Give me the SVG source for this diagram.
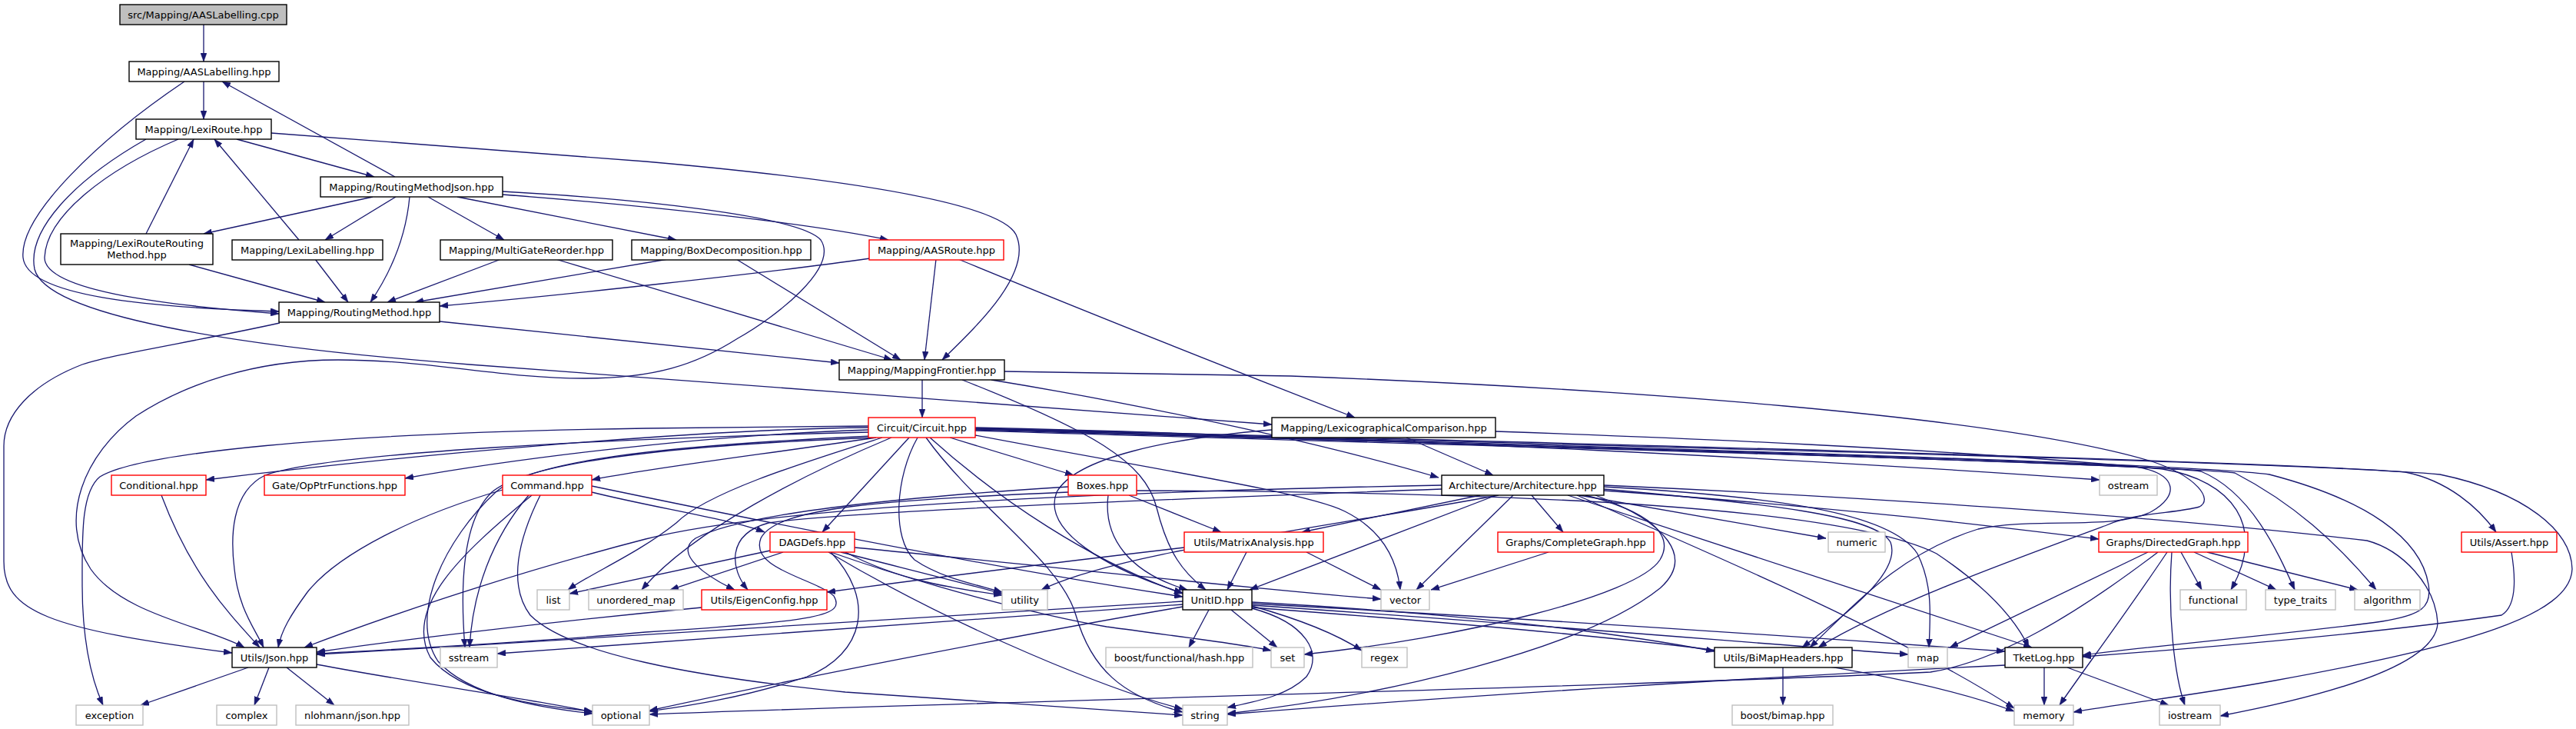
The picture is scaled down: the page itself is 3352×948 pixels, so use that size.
<svg xmlns="http://www.w3.org/2000/svg" width="3352" height="948" viewBox="0 0 3352 948">
<style>
.n rect{fill:#fff;stroke:#000;stroke-width:1.4}
.r rect{stroke:#f00}
.g rect{stroke:#bfbfbf}
.s rect{fill:#bfbfbf}
text{font-family:"DejaVu Sans",sans-serif;font-size:13px;text-anchor:middle;fill:#000}
#edges path{fill:none;stroke:#191970;stroke-width:1.3;marker-end:url(#a)}
</style>
<defs>
<marker id="a" viewBox="0 0 11 8" refX="11" refY="4" markerWidth="11" markerHeight="8" orient="auto" markerUnits="userSpaceOnUse"><path d="M0,0 L11,4 L0,8 z" fill="#191970" stroke="#191970" stroke-width="0.5"/></marker>
</defs>
<rect width="3352" height="948" fill="#fff"/>
<g id="edges">
<path d="M265,32 L265,80"/>
<path d="M265,106 L265,155"/>
<path d="M240,106 C130,180 25,280 30,335 C35,385 190,400 363,405"/>
<path d="M232,181 C140,220 60,280 58,335 C58,380 230,398 363,408"/>
<path d="M190,181 C95,235 35,300 45,350 C60,410 300,450 611,474 L1655,552"/>
<path d="M308,181 L487,230"/>
<path d="M353,173 L840,210 C1090,232 1300,262 1322,305 C1345,355 1270,425 1226,468"/>
<path d="M514,230 L289,106"/>
<path d="M485,256 L265,304"/>
<path d="M515,256 L423,312"/>
<path d="M533,256 C528,310 508,355 482,393"/>
<path d="M557,256 L656,312"/>
<path d="M595,256 L880,312"/>
<path d="M654,253 C850,268 1050,290 1156,312"/>
<path d="M654,249 C820,258 1040,280 1068,312 C1092,348 1010,412 960,440 C905,475 850,492 760,492 C650,492 560,468 440,468 C330,468 240,500 177,541 C110,590 75,675 118,740 C160,800 270,815 318,842"/>
<path d="M190,304 L252,181"/>
<path d="M246,344 L423,393"/>
<path d="M389,312 L279,181"/>
<path d="M410,337 L453,393"/>
<path d="M652,337 L504,393"/>
<path d="M723,337 L1161,468"/>
<path d="M869,337 L540,393"/>
<path d="M958,337 L1172,468"/>
<path d="M1132,336 C1000,355 720,385 572,398"/>
<path d="M1218,337 L1203,468"/>
<path d="M1247,337 C1400,400 1550,460 1763,543"/>
<path d="M572,418 L1092,472"/>
<path d="M364,420 C250,445 150,460 107,474 C40,500 5,540 5,580 L5,730 C5,795 60,818 302,849"/>
<path d="M1200,494 L1200,543"/>
<path d="M1307,483 L1680,489 C2100,505 2600,540 2800,600 C2860,620 2880,650 2862,659 C2830,668 2780,666 2741,683 C2600,735 2450,790 2366,842"/>
<path d="M1290,494 C1450,520 1700,570 1872,621"/>
<path d="M1252,494 C1420,560 1490,600 1505,660 C1520,720 1540,745 1569,767"/>
<path d="M1830,569 L1943,618"/>
<path d="M1655,559 C1520,570 1400,595 1375,640 C1355,690 1440,740 1539,771"/>
<path d="M1946,561 C2200,570 2500,582 2780,607 C2835,617 2835,645 2800,665 C2755,690 2645,672 2574,688 C2470,720 2410,790 2355,842"/>
<path d="M1130,556 C900,558 500,595 268,624"/>
<path d="M1130,559 C900,566 650,600 527,622"/>
<path d="M1140,569 C1000,590 850,608 770,624"/>
<path d="M1130,554 L840,557 C420,563 180,590 130,620 C105,640 107,700 107,760 C107,840 122,890 134,917"/>
<path d="M1130,562 C800,570 430,588 345,618 C300,640 300,700 305,740 C310,790 330,815 343,842"/>
<path d="M1140,569 C900,578 690,598 640,640 C598,680 600,780 605,842"/>
<path d="M1148,569 C1050,600 920,640 880,680 C830,720 770,745 739,767"/>
<path d="M1160,569 C1050,615 900,690 835,767"/>
<path d="M1183,569 L1070,692"/>
<path d="M1194,569 C1165,620 1160,700 1190,728 C1225,752 1270,760 1304,770"/>
<path d="M1210,569 C1300,650 1420,730 1539,772"/>
<path d="M1205,569 C1270,660 1380,730 1400,800 C1420,870 1460,905 1539,926"/>
<path d="M1236,569 L1397,618"/>
<path d="M1269,556 C1800,568 2400,600 2732,624"/>
<path d="M1269,557 C2000,578 2900,598 3130,614 C3185,625 3225,660 3248,692"/>
<path d="M1269,559 C2000,580 2700,598 2814,610 C2905,625 2950,685 2903,767"/>
<path d="M1269,560 C2000,582 2780,602 2864,613 C2930,640 2965,720 2986,767"/>
<path d="M1269,558 C2000,580 2830,605 2908,615 C2985,655 3040,705 3092,767"/>
<path d="M1269,557 C2000,575 3000,600 3175,617 C3285,640 3346,690 3347,740 C3345,800 3210,840 2960,885 C2850,905 2760,915 2698,926"/>
<path d="M1269,558 C2000,578 2850,602 2953,617 C3080,650 3150,700 3160,760 C3165,790 3150,800 3100,808 C3000,822 2800,840 2710,852"/>
<path d="M1269,566 C1500,610 1700,640 1750,665 C1800,690 1818,730 1822,767"/>
<path d="M1135,567 C850,580 690,600 645,640 C580,700 530,800 570,860 C610,905 700,920 771,928"/>
<path d="M654,637 C540,670 440,720 400,770 C378,800 366,820 362,842"/>
<path d="M688,644 C640,700 615,770 611,842"/>
<path d="M692,644 C600,720 525,790 560,855 C600,905 700,918 771,925"/>
<path d="M703,644 C675,700 660,760 690,800 C740,850 900,880 1100,900 C1300,915 1450,925 1539,930"/>
<path d="M770,640 C850,660 950,675 995,692"/>
<path d="M770,632 C1000,680 1300,740 1539,776"/>
<path d="M1469,644 L1589,692"/>
<path d="M1442,644 C1435,700 1470,745 1545,767"/>
<path d="M1390,640 C1150,650 1010,660 990,700 C975,740 1060,752 1085,775 C1100,800 1070,808 840,822 C700,835 500,845 412,850"/>
<path d="M1390,633 C1150,648 960,670 905,700 C875,720 920,750 956,767"/>
<path d="M1479,638 C2000,640 2400,660 2520,720 C2580,760 2620,800 2640,842"/>
<path d="M1926,644 L1694,692"/>
<path d="M1947,644 L1626,767"/>
<path d="M1969,644 L1843,767"/>
<path d="M1993,644 L2034,692"/>
<path d="M2055,644 L2376,700"/>
<path d="M2087,636 C2300,655 2440,670 2460,705 C2475,745 2400,800 2345,842"/>
<path d="M2087,633 C2300,645 2460,665 2495,720 C2515,760 2512,800 2510,842"/>
<path d="M2063,644 C2145,665 2180,695 2160,728 C2130,775 1900,830 1697,851"/>
<path d="M2076,644 C2170,680 2205,725 2160,765 C2060,845 1800,905 1597,928"/>
<path d="M2087,638 C2400,660 2600,685 2731,701"/>
<path d="M2087,631 C2400,645 2800,670 3080,703 C3125,715 3169,760 3172,810 C3170,870 3000,910 2889,931"/>
<path d="M1876,631 C1400,640 1000,660 840,701 C650,750 480,810 396,842"/>
<path d="M1876,636 C1500,650 1100,665 1000,680 C945,695 950,740 973,767"/>
<path d="M1950,644 C1700,690 1450,720 1355,767"/>
<path d="M2040,644 L2644,842"/>
<path d="M2052,644 C2250,730 2480,830 2621,921"/>
<path d="M2015,718 L1862,767"/>
<path d="M1541,712 C1300,740 1150,760 1076,770"/>
<path d="M1622,718 L1597,767"/>
<path d="M1700,718 L1797,767"/>
<path d="M1002,716 L741,772"/>
<path d="M1019,718 L872,767"/>
<path d="M1094,718 C1180,740 1250,757 1304,772"/>
<path d="M1100,718 C1170,755 1240,765 1304,774"/>
<path d="M1112,712 C1400,740 1650,768 1797,779"/>
<path d="M1081,718 C1200,760 1350,800 1440,815 C1550,830 1620,838 1654,846"/>
<path d="M1078,718 C1250,820 1450,900 1539,922"/>
<path d="M1081,718 C1140,780 1125,850 1050,880 C960,910 880,920 845,925"/>
<path d="M1573,793 L1547,842"/>
<path d="M1602,793 L1662,842"/>
<path d="M1629,788 C1690,805 1740,825 1772,846"/>
<path d="M1629,783 C1900,798 2100,822 2231,847"/>
<path d="M1629,787 C2000,812 2300,838 2483,851"/>
<path d="M1629,785 C2000,805 2400,832 2609,847"/>
<path d="M1629,790 C2100,825 2450,860 2621,925"/>
<path d="M1629,791 C1700,810 1722,850 1700,880 C1675,905 1635,912 1597,920"/>
<path d="M1539,782 C1200,800 800,830 412,851"/>
<path d="M1539,786 C1200,810 900,832 647,850"/>
<path d="M1539,789 C1300,830 1000,890 845,924"/>
<path d="M2660,868 L2660,917"/>
<path d="M2690,868 L2822,917"/>
<path d="M2609,865 C2300,880 1900,905 1597,929"/>
<path d="M2795,718 L2537,842"/>
<path d="M2808,718 C2700,800 2600,860 2512,874 C2200,890 1200,915 845,929"/>
<path d="M2820,718 C2765,800 2705,880 2680,917"/>
<path d="M2826,718 C2820,800 2830,880 2843,917"/>
<path d="M2838,718 L2865,767"/>
<path d="M2855,718 L2962,767"/>
<path d="M2872,718 L3068,767"/>
<path d="M3268,718 C3275,760 3272,790 3255,800 C3100,822 2900,840 2710,854"/>
<path d="M913,790 C700,810 500,835 412,848"/>
<path d="M210,644 C250,750 300,800 338,842"/>
<path d="M323,868 L183,917"/>
<path d="M350,868 L331,917"/>
<path d="M373,868 L435,917"/>
<path d="M412,864 C550,890 700,910 771,926"/>
<path d="M2320,868 L2320,917"/>
</g>
<g id="n0" class="n s"><rect x="156" y="6" width="217" height="26"/><text x="264.5" y="23.5">src/Mapping/AASLabelling.cpp</text></g>
<g id="n1" class="n"><rect x="168" y="80" width="195" height="26"/><text x="265.5" y="97.5">Mapping/AASLabelling.hpp</text></g>
<g id="n2" class="n"><rect x="177" y="155" width="176" height="26"/><text x="265" y="172.5">Mapping/LexiRoute.hpp</text></g>
<g id="n3" class="n"><rect x="417" y="230" width="237" height="26"/><text x="535.5" y="247.5">Mapping/RoutingMethodJson.hpp</text></g>
<g id="n4" class="n"><rect x="79" y="304" width="198" height="40"/><text x="178" y="321">Mapping/LexiRouteRouting</text><text x="178" y="336">Method.hpp</text></g>
<g id="n5" class="n"><rect x="302" y="312" width="196" height="26"/><text x="400" y="329.5">Mapping/LexiLabelling.hpp</text></g>
<g id="n6" class="n"><rect x="573" y="312" width="224" height="26"/><text x="685" y="329.5">Mapping/MultiGateReorder.hpp</text></g>
<g id="n7" class="n"><rect x="822" y="312" width="233" height="26"/><text x="938.5" y="329.5">Mapping/BoxDecomposition.hpp</text></g>
<g id="n8" class="n r"><rect x="1131" y="312" width="175" height="26"/><text x="1218.5" y="329.5">Mapping/AASRoute.hpp</text></g>
<g id="n9" class="n"><rect x="363" y="393" width="209" height="26"/><text x="467.5" y="410.5">Mapping/RoutingMethod.hpp</text></g>
<g id="n10" class="n"><rect x="1092" y="468" width="215" height="26"/><text x="1199.5" y="485.5">Mapping/MappingFrontier.hpp</text></g>
<g id="n11" class="n r"><rect x="1130" y="543" width="139" height="26"/><text x="1199.5" y="560.5">Circuit/Circuit.hpp</text></g>
<g id="n12" class="n"><rect x="1655" y="543" width="291" height="26"/><text x="1800.5" y="560.5">Mapping/LexicographicalComparison.hpp</text></g>
<g id="n13" class="n r"><rect x="145" y="618" width="123" height="26"/><text x="206.5" y="635.5">Conditional.hpp</text></g>
<g id="n14" class="n r"><rect x="344" y="618" width="183" height="26"/><text x="435.5" y="635.5">Gate/OpPtrFunctions.hpp</text></g>
<g id="n15" class="n r"><rect x="654" y="618" width="116" height="26"/><text x="712" y="635.5">Command.hpp</text></g>
<g id="n16" class="n r"><rect x="1390" y="618" width="89" height="26"/><text x="1434.5" y="635.5">Boxes.hpp</text></g>
<g id="n17" class="n"><rect x="1876" y="618" width="211" height="26"/><text x="1981.5" y="635.5">Architecture/Architecture.hpp</text></g>
<g id="n18" class="n g"><rect x="2732" y="618" width="75" height="26"/><text x="2769.5" y="635.5">ostream</text></g>
<g id="n19" class="n r"><rect x="1002" y="692" width="110" height="26"/><text x="1057" y="709.5">DAGDefs.hpp</text></g>
<g id="n20" class="n r"><rect x="1541" y="692" width="181" height="26"/><text x="1631.5" y="709.5">Utils/MatrixAnalysis.hpp</text></g>
<g id="n21" class="n r"><rect x="1949" y="692" width="203" height="26"/><text x="2050.5" y="709.5">Graphs/CompleteGraph.hpp</text></g>
<g id="n22" class="n g"><rect x="2379" y="692" width="74" height="26"/><text x="2416" y="709.5">numeric</text></g>
<g id="n23" class="n r"><rect x="2731" y="692" width="194" height="26"/><text x="2828" y="709.5">Graphs/DirectedGraph.hpp</text></g>
<g id="n24" class="n r"><rect x="3203" y="692" width="124" height="26"/><text x="3265" y="709.5">Utils/Assert.hpp</text></g>
<g id="n25" class="n g"><rect x="699" y="767" width="42" height="26"/><text x="720" y="784.5">list</text></g>
<g id="n26" class="n g"><rect x="766" y="767" width="123" height="26"/><text x="827.5" y="784.5">unordered_map</text></g>
<g id="n27" class="n r"><rect x="913" y="767" width="163" height="26"/><text x="994.5" y="784.5">Utils/EigenConfig.hpp</text></g>
<g id="n28" class="n g"><rect x="1304" y="767" width="59" height="26"/><text x="1333.5" y="784.5">utility</text></g>
<g id="n29" class="n"><rect x="1539" y="767" width="90" height="26"/><text x="1584" y="784.5">UnitID.hpp</text></g>
<g id="n30" class="n g"><rect x="1797" y="767" width="63" height="26"/><text x="1828.5" y="784.5">vector</text></g>
<g id="n31" class="n g"><rect x="2837" y="767" width="86" height="26"/><text x="2880" y="784.5">functional</text></g>
<g id="n32" class="n g"><rect x="2948" y="767" width="91" height="26"/><text x="2993.5" y="784.5">type_traits</text></g>
<g id="n33" class="n g"><rect x="3064" y="767" width="85" height="26"/><text x="3106.5" y="784.5">algorithm</text></g>
<g id="n34" class="n"><rect x="302" y="842" width="110" height="26"/><text x="357" y="859.5">Utils/Json.hpp</text></g>
<g id="n35" class="n g"><rect x="573" y="842" width="74" height="26"/><text x="610" y="859.5">sstream</text></g>
<g id="n36" class="n g"><rect x="1439" y="842" width="191" height="26"/><text x="1534.5" y="859.5">boost/functional/hash.hpp</text></g>
<g id="n37" class="n g"><rect x="1654" y="842" width="43" height="26"/><text x="1675.5" y="859.5">set</text></g>
<g id="n38" class="n g"><rect x="1772" y="842" width="59" height="26"/><text x="1801.5" y="859.5">regex</text></g>
<g id="n39" class="n"><rect x="2231" y="842" width="179" height="26"/><text x="2320.5" y="859.5">Utils/BiMapHeaders.hpp</text></g>
<g id="n40" class="n g"><rect x="2483" y="842" width="51" height="26"/><text x="2508.5" y="859.5">map</text></g>
<g id="n41" class="n"><rect x="2609" y="842" width="101" height="26"/><text x="2659.5" y="859.5">TketLog.hpp</text></g>
<g id="n42" class="n g"><rect x="99" y="917" width="87" height="26"/><text x="142.5" y="934.5">exception</text></g>
<g id="n43" class="n g"><rect x="282" y="917" width="78" height="26"/><text x="321" y="934.5">complex</text></g>
<g id="n44" class="n g"><rect x="385" y="917" width="147" height="26"/><text x="458.5" y="934.5">nlohmann/json.hpp</text></g>
<g id="n45" class="n g"><rect x="771" y="917" width="74" height="26"/><text x="808" y="934.5">optional</text></g>
<g id="n46" class="n g"><rect x="1539" y="917" width="58" height="26"/><text x="1568" y="934.5">string</text></g>
<g id="n47" class="n g"><rect x="2254" y="917" width="131" height="26"/><text x="2319.5" y="934.5">boost/bimap.hpp</text></g>
<g id="n48" class="n g"><rect x="2621" y="917" width="77" height="26"/><text x="2659.5" y="934.5">memory</text></g>
<g id="n49" class="n g"><rect x="2810" y="917" width="79" height="26"/><text x="2849.5" y="934.5">iostream</text></g>
</svg>
